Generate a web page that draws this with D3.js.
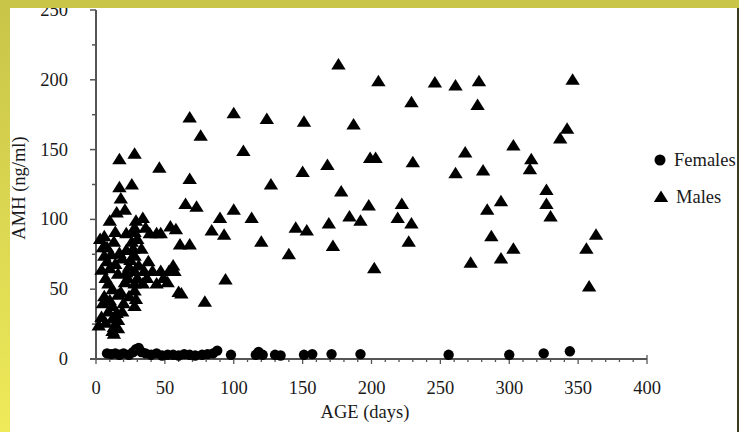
<!DOCTYPE html>
<html>
<head>
<meta charset="utf-8">
<script src="https://cdn.jsdelivr.net/npm/d3@7/dist/d3.min.js"></script>
<style>
  html, body { margin: 0; padding: 0; background: #ffffff; }
  svg { display: block; }
  text { font-family: "Liberation Serif", "Times New Roman", serif; fill: #1a1a1a; }
</style>
</head>
<body>
<svg id="chart" width="739" height="432"></svg>
<script>
// ---- data ----
const xTicks = [0, 50, 100, 150, 200, 250, 300, 350, 400];
const yTicks = [0, 50, 100, 150, 200, 250];
const xLabel = "AGE (days)";
const yLabel = "AMH (ng/ml)";
const seriesNames = ["Females", "Males"];

// Females: [age (days), AMH (ng/ml)]
const females = [
  [8,4],[11,3.5],[14,4],[17,3],[20,4],[24,3],[27,5],[29,7],[31,8],[33,5],
  [36,4],[40,3],[44,4],[48,2.5],[52,3],[56,3],[60,2.5],[64,3.5],[68,3],[72,2.5],
  [77,3],[81,3.5],[85,4],[88,6],[98,3],[116,3],[118,5],[121,3],[130,3],[134,2.5],
  [151,3],[157,3.5],[171,3.5],[192,3.5],[256,3],[300,3],[325,4],[344,5.5]
];

// Males: [age (days), AMH (ng/ml)]
const males = [
  [176,211],[205,199],[246,198],[261,196],[278,199],[346,200],[229,184],[277,182],
  [342,165],[337,158],[303,153],[268,148],[316,143],[315,136],[199,144],[203,144],
  [230,141],[261,133],[281,135],[327,121],[327,111],[294,113],[284,107],[222,111],
  [219,101],[229,97],[330,102],[227,84],[287,88],[303,79],[294,72],[272,69],
  [363,89],[356,79],[358,52],[202,65],
  [68,173],[100,176],[124,172],[151,170],[187,168],[76,160],[107,149],[168,139],
  [150,134],[68,129],[127,125],[178,120],[198,110],[65,111],[73,109],[100,107],
  [90,101],[113,101],[169,97],[184,102],[192,99],[84,92],[93,89],[68,82],[61,82],
  [120,84],[145,94],[153,92],[172,81],[140,75],[94,57],[79,41],[62,47],
  [17,143],[28,147],[46,137],[17,123],[26,125],[18,115],[21,107],[10,99],[29,99],
  [34,101],[28,94],[28,91],[39,90],[44,90],[54,95],[58,93],[6,88],[3,86],[13,84],
  [27,79],[28,74],[25,71],[6,74],[56,67],[53,63],[41,63],[10,65],[16,61],[22,62],
  [28,63],[35,63],[9,54],[28,54],[34,54],[44,54],[21,55],[60,48],[16,46],[28,49],
  [29,43],[28,38],[6,45],[12,38],[9,34],[4,30],[12,29],[2,24],[13,23],[16,28],[13,18],
  [5,80],[8,70],[11,75],[14,68],[19,72],[22,78],[24,66],[7,58],[12,50],[18,48],
  [20,40],[24,45],[10,42],[15,33],[7,26],[19,34],[23,58],[30,58],[37,58],[47,63],
  [49,58],[31,67],[38,70],[26,84],[30,86],[36,94],[22,90],[14,91],[8,80],[17,76],
  [47,90],[52,55],[57,63],[12,20],[16,22],[5,40],[4,64],[33,79],[15,105]
];

// ---- layout ----
const svg = d3.select("#chart");
const x = d3.scaleLinear().domain([0, 400]).range([96, 647]);
const y = d3.scaleLinear().domain([0, 250]).range([359, 10]);
const axisColor = "#555";
const fs = 18.5;

const triPath = "M0,-6.5L7.2,5L-7.2,5Z";

// Y axis
const gy = svg.append("g");
gy.append("line").attr("x1", x(0)).attr("x2", x(0)).attr("y1", y(250)).attr("y2", y(0))
  .attr("stroke", axisColor).attr("stroke-width", 2);
gy.selectAll("line.tick").data(d3.range(0, 251, 25)).enter().append("line")
  .attr("x1", d => x(0) - (d % 50 === 0 ? 6 : 4)).attr("x2", x(0))
  .attr("y1", d => y(d)).attr("y2", d => y(d))
  .attr("stroke", axisColor).attr("stroke-width", 1.5);
gy.selectAll("text").data(yTicks).enter().append("text")
  .attr("x", 68).attr("y", d => y(d)).attr("dy", "0.32em")
  .attr("text-anchor", "end").attr("font-size", fs).text(d => d);

// X axis
const gx = svg.append("g");
gx.append("line").attr("x1", x(0) - 6).attr("x2", x(400)).attr("y1", y(0)).attr("y2", y(0))
  .attr("stroke", axisColor).attr("stroke-width", 2);
gx.selectAll("line.tick").data(d3.range(0, 401, 10)).enter().append("line")
  .attr("x1", d => x(d)).attr("x2", d => x(d))
  .attr("y1", d => d === 400 ? y(0) - 4 : y(0))
  .attr("y2", d => y(0) + (d % 50 === 0 ? 5 : 3))
  .attr("stroke", axisColor).attr("stroke-width", 1.3);
gx.selectAll("text").data(xTicks).enter().append("text")
  .attr("x", d => x(d)).attr("y", 394)
  .attr("text-anchor", "middle").attr("font-size", fs)
  .text(d => d);

// Axis titles
svg.append("text").attr("x", 365).attr("y", 418).attr("text-anchor", "middle")
  .attr("font-size", fs).text(xLabel);
svg.append("text").attr("transform", "translate(25,188) rotate(-90)")
  .attr("text-anchor", "middle").attr("font-size", fs).text(yLabel);

// Points
svg.append("g").selectAll("circle").data(females).enter().append("circle")
  .attr("cx", d => x(d[0])).attr("cy", d => y(d[1])).attr("r", 5.2)
  .attr("fill", "#000");
svg.append("g").selectAll("path").data(males).enter().append("path")
  .attr("d", triPath)
  .attr("transform", d => `translate(${x(d[0])},${y(d[1])})`)
  .attr("fill", "#000");

// Legend
const lg = svg.append("g");
lg.append("circle").attr("cx", 660).attr("cy", 160).attr("r", 5.5).attr("fill", "#000");
lg.append("text").attr("x", 674).attr("y", 166).attr("font-size", fs).text(seriesNames[0]);
lg.append("path").attr("d", triPath).attr("transform", "translate(661,197)").attr("fill", "#000");
lg.append("text").attr("x", 676).attr("y", 203).attr("font-size", fs).text(seriesNames[1]);

// Frame bands (on top)
const defs = svg.append("defs");
const grad = defs.append("linearGradient").attr("id", "lg").attr("x1", 0).attr("y1", 0).attr("x2", 0).attr("y2", 1);
grad.append("stop").attr("offset", "0%").attr("stop-color", "#c8c448");
grad.append("stop").attr("offset", "100%").attr("stop-color", "#eeea5a");
svg.append("rect").attr("x", 0).attr("y", 0).attr("width", 739).attr("height", 8).attr("fill", "#c9c548");
svg.append("rect").attr("x", 0).attr("y", 0).attr("width", 10).attr("height", 432).attr("fill", "url(#lg)");
svg.append("rect").attr("x", 737).attr("y", 8).attr("width", 2).attr("height", 424).attr("fill", "#3b3a1e");
</script>
</body>
</html>
